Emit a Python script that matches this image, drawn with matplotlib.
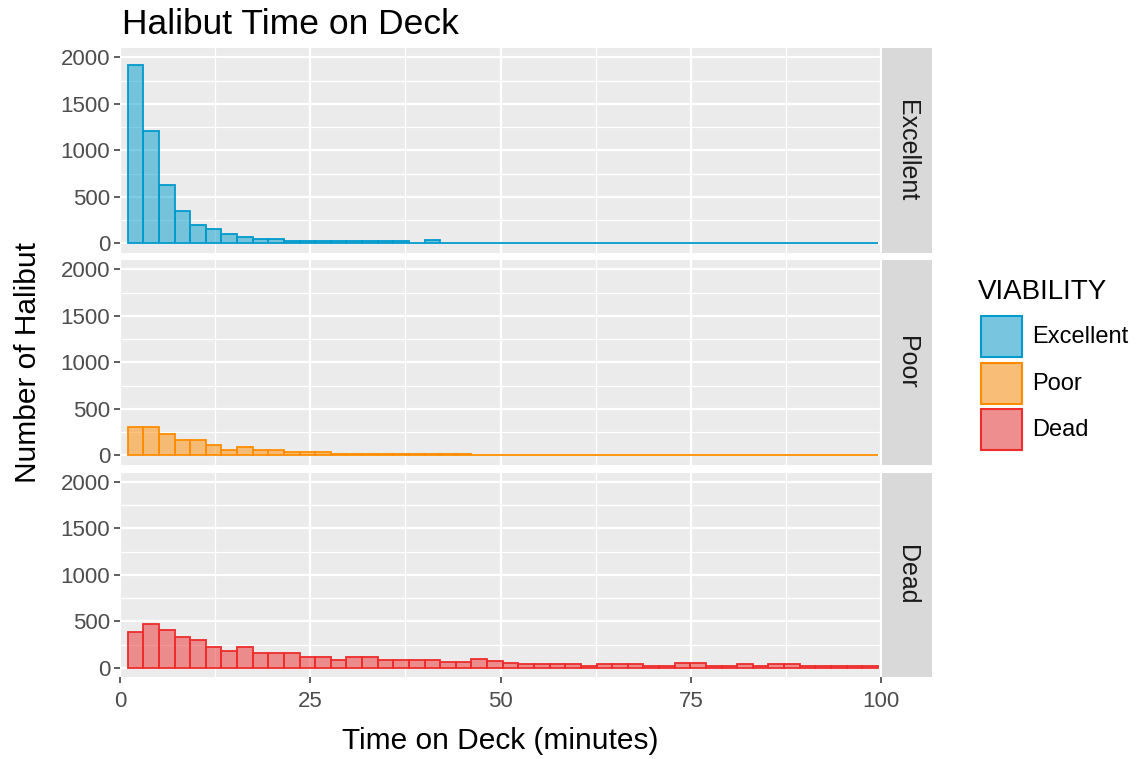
import matplotlib.pyplot as plt
from matplotlib.colors import to_rgba
from matplotlib.patches import Rectangle
import numpy as np

plt.rcParams['font.family'] = ['Liberation Sans', 'DejaVu Sans']

# histogram counts, 48 bins from 1 to ~99.6 minutes
bin_start = 1.0
bin_width = 2.054
excellent = [1915, 1209, 624, 348, 202, 152, 96, 67, 43, 43,
             22, 22, 22, 22, 22, 22, 22, 22, 8, 35] + [2] * 28
poor = [301, 301, 230, 167, 167, 110, 60, 89, 57, 57, 39, 39, 39,
        15, 15, 15, 15, 15, 15, 15, 15, 15] + [1] * 26
dead = [388, 473, 409, 328, 304, 219, 176, 219, 155, 155, 155, 113, 113,
        88, 113, 113, 88, 81, 81, 81, 60, 60, 92, 75, 50,
        45, 45, 45, 45, 22, 45, 45, 45, 22, 22, 50, 50, 22, 22,
        45, 22, 45, 45, 15, 15, 15, 15, 15]

groups = ['Excellent', 'Poor', 'Dead']
series = [excellent, poor, dead]
colors = ['#009ACD', '#FF8C00', '#EE2C2C']

x_ticks = [0, 25, 50, 75, 100]
y_ticks = [0, 500, 1000, 1500, 2000]

W, H = 1137, 759
fig = plt.figure(figsize=(W / 100, H / 100), dpi=100)

left, right = 120 / W, 881 / W
panel_h = 204.6 / H
tops = [48, 260, 472.5]

for i, (name, counts, col) in enumerate(zip(groups, series, colors)):
    bottom = 1 - (tops[i] + 204.6) / H
    ax = fig.add_axes([left, bottom, right - left, panel_h])
    ax.set_facecolor('#EBEBEB')
    centers = bin_start + bin_width * (np.arange(len(counts)) + 0.5)
    ax.bar(centers, counts, width=bin_width, facecolor=to_rgba(col, 0.5),
           edgecolor=col, linewidth=1.3, zorder=3)
    ax.set_xlim(0, 100)
    ax.set_ylim(-100, 2100)
    ax.set_xticks(x_ticks)
    ax.set_xticks([12.5, 37.5, 62.5, 87.5], minor=True)
    ax.set_yticks(y_ticks)
    ax.set_yticks([250, 750, 1250, 1750], minor=True)
    ax.grid(which='major', color='white', linewidth=1.6, zorder=0)
    ax.grid(which='minor', color='white', linewidth=0.9, zorder=0)
    ax.set_axisbelow(True)
    for s in ax.spines.values():
        s.set_visible(False)
    ax.tick_params(which='major', length=4, width=1.1, color='#333333',
                   labelsize=16, labelcolor='#4D4D4D', pad=3)
    ax.tick_params(axis='x', which='major', pad=6)
    ax.tick_params(which='minor', length=0)
    if i < 2:
        ax.tick_params(axis='x', which='major', length=0, labelbottom=False)
    # facet strip
    sx = 882 / W
    strip = fig.add_axes([sx, bottom, 50 / W, panel_h])
    strip.set_facecolor('#D9D9D9')
    strip.set_xticks([])
    strip.set_yticks([])
    for s in strip.spines.values():
        s.set_visible(False)
    strip.text(0.5, 0.5, name, rotation=-90, ha='center', va='center',
               fontsize=18, color='#1A1A1A', transform=strip.transAxes)

fig.text(122 / W, 1 - 25 / H, 'Halibut Time on Deck', fontsize=25.5,
         ha='left', va='center', color='black')
fig.text(500 / W, 1 - 741 / H, 'Time on Deck (minutes)', fontsize=21.5,
         ha='center', va='center', color='black')
fig.text(28 / W, 1 - 362 / H, 'Number of Halibut', fontsize=21.5,
         rotation=90, ha='center', va='center', color='black')

# legend
fig.text(978 / W, 1 - 292 / H, 'VIABILITY', fontsize=20, ha='left',
         va='center', color='black')
key_tops = [315, 361.5, 408]
for name, col, kt in zip(groups, colors, key_tops):
    fig.add_artist(Rectangle((980 / W, 1 - (kt + 43) / H), 43 / W, 43 / H,
                             transform=fig.transFigure, facecolor='#F2F2F2',
                             edgecolor='none'))
    fig.add_artist(Rectangle((981 / W, 1 - (kt + 42) / H), 41 / W, 41 / H,
                             transform=fig.transFigure,
                             facecolor=to_rgba(col, 0.5), edgecolor=col,
                             linewidth=1.5))
    fig.text(1032 / W, 1 - (kt + 22) / H, name, fontsize=17, ha='left',
             va='center', color='black')

fig.savefig('out.png', dpi=100)
